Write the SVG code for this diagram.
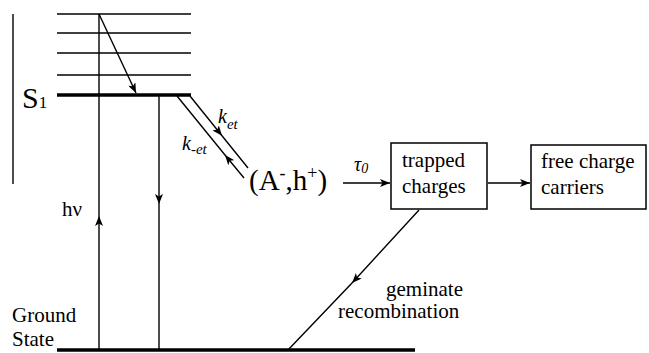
<svg xmlns="http://www.w3.org/2000/svg" width="649" height="353" viewBox="0 0 649 353">
<defs>
<marker id="ah" viewBox="0 0 10 8" markerWidth="10" markerHeight="8" refX="10" refY="4" orient="auto" markerUnits="userSpaceOnUse">
<path d="M0,0 L10,4 L0,8 L2.5,4 Z" fill="#000"/>
</marker>
<style>
.ln{stroke:#000;stroke-width:1.4;fill:none}
.thick{stroke:#000;stroke-width:3.5;fill:none}
.box{stroke:#000;stroke-width:1.5;fill:#fff}
text{font-family:"Liberation Serif","Times New Roman","DejaVu Serif",serif;fill:#000}
</style>
</defs>
<rect width="649" height="353" fill="#fff"/>
<g id="levels">
<line class="ln" x1="13" y1="14" x2="13" y2="184"/>
<line class="ln" x1="57" y1="14" x2="191" y2="14"/>
<line class="ln" x1="57" y1="33" x2="191" y2="33"/>
<line class="ln" x1="57" y1="53" x2="191" y2="53"/>
<line class="ln" x1="57" y1="75" x2="191" y2="75"/>
<line class="thick" x1="57" y1="95" x2="191" y2="95"/>
<line class="thick" x1="57" y1="350" x2="415" y2="350"/>
<text x="22" y="108" font-size="30">S<tspan font-size="17">1</tspan></text>
<text font-size="21" x="12" y="322">Ground</text>
<text font-size="21" x="12" y="346">State</text>
</g>
<g id="connectors">
<path class="ln" d="M99,350 L99,216 L99,14" marker-mid="url(#ah)"/>
<line class="ln" x1="99" y1="14" x2="136" y2="93" marker-end="url(#ah)"/>
<path class="ln" d="M159,95 L159,204 L159,350" marker-mid="url(#ah)"/>
<path class="ln" d="M190,96 L222,135.7 L248,168" marker-mid="url(#ah)"/>
<path class="ln" d="M244,178 L225,155 L177,96" marker-mid="url(#ah)"/>
<line class="ln" x1="343" y1="183" x2="390" y2="183" marker-end="url(#ah)"/>
<line class="ln" x1="488" y1="183" x2="530" y2="183" marker-end="url(#ah)"/>
<path class="ln" d="M419,210 L352,283 L288,350" marker-mid="url(#ah)"/>
<text font-size="21" x="62" y="216">hν</text>
<text font-style="italic" x="218" y="123" font-size="20">k<tspan font-size="15" dy="6">et</tspan></text>
<text font-style="italic" x="182" y="150" font-size="20">k<tspan font-size="15" dy="4">-et</tspan></text>
<text font-style="italic" x="354" y="171" font-size="20">τ<tspan font-size="14" dy="2">0</tspan></text>
<text font-size="21" x="386" y="296">geminate</text>
<text font-size="21" x="338" y="318">recombination</text>
</g>
<g id="pair">
<text x="249" y="190" font-size="29">(A<tspan font-size="18" dy="-11">-</tspan><tspan dy="11">,h</tspan><tspan font-size="18" dy="-11">+</tspan><tspan dy="11">)</tspan></text>
</g>
<g id="trapped">
<rect class="box" x="391" y="143" width="96" height="66"/>
<text font-size="21" x="402" y="167">trapped</text>
<text font-size="21" x="402" y="193">charges</text>
</g>
<g id="free">
<rect class="box" x="531" y="145" width="115" height="64"/>
<text font-size="21" x="541" y="168">free charge</text>
<text font-size="21" x="541" y="194">carriers</text>
</g>
</svg>
